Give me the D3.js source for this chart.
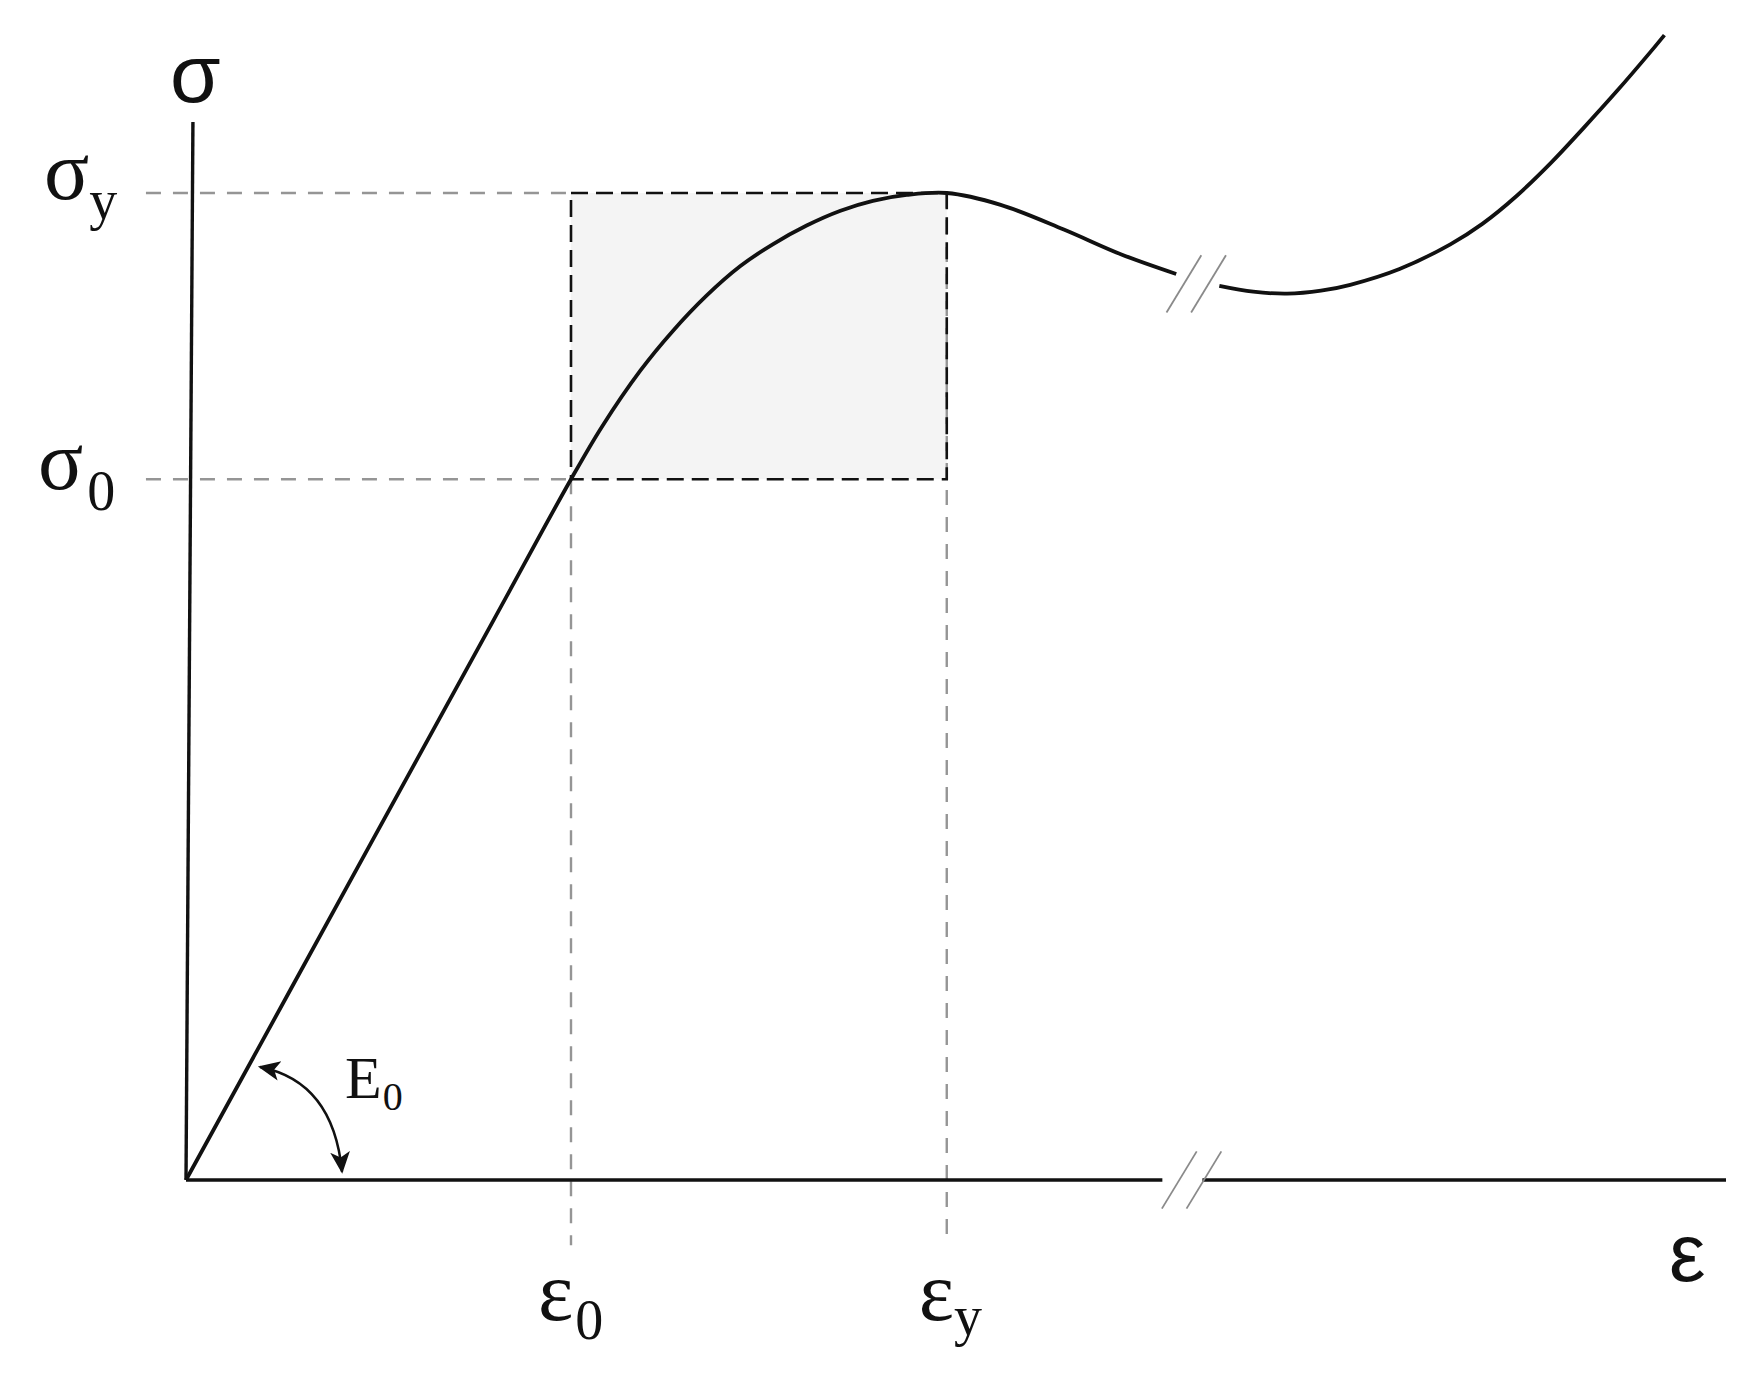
<!DOCTYPE html>
<html>
<head>
<meta charset="utf-8">
<script src="https://cdn.jsdelivr.net/npm/d3@7"></script>
<style>
  body { margin: 0; background: #fff; }
  svg { display: block; }
</style>
</head>
<body>
<svg id="chart" width="1757" height="1373"></svg>
<script>
const width = 1757;
const height = 1373;

// key points on the stress-strain curve (arbitrary units)
const eps0 = 25, epsY = 49.4;
const sig0 = 71, sigY = 100;

// curve before the break
const curveLeft = [
  [0, 0], [12, 34.1], [20, 56.8], [25, 71.0], [27, 76.3], [29.5, 82.0], [31.6, 86.0],
  [33.8, 89.6], [36.0, 92.6], [38.1, 94.8], [40.3, 96.7], [42.5, 98.2], [44.6, 99.2],
  [46.8, 99.8], [49.4, 100], [52.9, 98.8], [57.0, 96.3], [60.7, 93.8], [64.3, 91.8]
];
// curve after the break
const curveRight = [
  [67.1, 90.6], [69.3, 90.0], [71.5, 89.8], [73.7, 90.1], [75.6, 90.7],
  [78.8, 92.3], [82.1, 94.8], [84.2, 96.9], [86.4, 99.7], [88.6, 103.0],
  [90.7, 106.5], [92.9, 110.3], [95.1, 114.3], [96.0, 116.0]
];

// axis break marks
const curveBreak = [64.8, 66.4];
const curveBreakY = 90.8;
const axisBreak = [64.5, 66.1];
const axisGap = [63.4, 66.0];
const xAxisEnd = 100;
const yAxisTop = [0.45, 107.2];

const x = d3.scaleLinear().domain([0, 100]).range([186, 1726]);
const y = d3.scaleLinear().domain([0, 100]).range([1180, 193]);

const svg = d3.select("#chart");
svg.append("rect").attr("width", width).attr("height", height).attr("fill", "#fff");

const defs = svg.append("defs");
defs.append("marker")
  .attr("id", "arrow")
  .attr("viewBox", "0 -5 10 10")
  .attr("refX", 9)
  .attr("refY", 0)
  .attr("markerUnits", "userSpaceOnUse")
  .attr("markerWidth", 22)
  .attr("markerHeight", 22)
  .attr("orient", "auto-start-reverse")
  .append("path")
  .attr("d", "M0,-4.5L10,0L0,4.5L2.5,0Z")
  .attr("fill", "#111");

// shaded box between the two yield points
svg.append("rect")
  .attr("x", x(eps0)).attr("y", y(sigY))
  .attr("width", x(epsY) - x(eps0)).attr("height", y(sig0) - y(sigY))
  .attr("fill", "#f4f4f4");

// grey reference lines
const grey = svg.append("g")
  .attr("stroke", "#959595").attr("stroke-width", 2.4)
  .attr("stroke-dasharray", "15,12").attr("fill", "none");

grey.append("line").attr("x1", x(-2.6)).attr("x2", x(eps0)).attr("y1", y(sigY)).attr("y2", y(sigY));
grey.append("line").attr("x1", x(-2.6)).attr("x2", x(eps0)).attr("y1", y(sig0)).attr("y2", y(sig0));
grey.append("line").attr("x1", x(eps0)).attr("x2", x(eps0)).attr("y1", y(sig0)).attr("y2", y(-6.6));
grey.append("line").attr("x1", x(epsY)).attr("x2", x(epsY)).attr("y1", y(sigY)).attr("y2", y(-6.6));

// black dashed box
svg.append("rect")
  .attr("x", x(eps0)).attr("y", y(sigY))
  .attr("width", x(epsY) - x(eps0)).attr("height", y(sig0) - y(sigY))
  .attr("fill", "none").attr("stroke", "#111").attr("stroke-width", 2.6)
  .attr("stroke-dasharray", "17,8");

// axes
const axes = svg.append("g").attr("stroke", "#111").attr("stroke-width", 3.4).attr("fill", "none");
axes.append("line").attr("x1", x(0)).attr("y1", y(0)).attr("x2", x(axisGap[0])).attr("y2", y(0));
axes.append("line").attr("x1", x(axisGap[1])).attr("y1", y(0)).attr("x2", x(xAxisEnd)).attr("y2", y(0));
axes.append("line").attr("x1", x(0)).attr("y1", y(0)).attr("x2", x(yAxisTop[0])).attr("y2", y(yAxisTop[1]));

// curve
const line = d3.line().x(d => x(d[0])).y(d => y(d[1])).curve(d3.curveCatmullRom.alpha(0.5));
[curveLeft, curveRight].forEach(pts => {
  svg.append("path")
    .attr("d", line(pts))
    .attr("fill", "none").attr("stroke", "#111").attr("stroke-width", 3.8)
    .attr("stroke-linecap", "butt");
});

// break slashes
function slash(cx, cy) {
  svg.append("line")
    .attr("x1", x(cx - 1.13)).attr("y1", y(cy - 2.9))
    .attr("x2", x(cx + 1.13)).attr("y2", y(cy + 2.9))
    .attr("stroke", "#8a8a8a").attr("stroke-width", 1.8);
}
curveBreak.forEach(cx => slash(cx, curveBreakY));
axisBreak.forEach(cx => slash(cx, 0));

// E0 angle arrow
const a0 = [4.81, 11.45], a1 = [10.13, 0.85], ac = [9.56, 9.98];
const arc = d3.path();
arc.moveTo(x(a0[0]), y(a0[1]));
arc.quadraticCurveTo(x(ac[0]), y(ac[1]), x(a1[0]), y(a1[1]));
svg.append("path")
  .attr("d", arc.toString())
  .attr("fill", "none").attr("stroke", "#111").attr("stroke-width", 2.5)
  .attr("marker-start", "url(#arrow)").attr("marker-end", "url(#arrow)");

// labels
const serif = "'Liberation Serif', 'Times New Roman', serif";
const sans = "'Liberation Sans', Arial, sans-serif";

function label(px, py, main, sub, size, subSize, subDx, subDy, font) {
  const t = svg.append("text")
    .attr("x", px).attr("y", py)
    .attr("font-family", font).attr("font-size", size).attr("fill", "#111");
  t.append("tspan").text(main);
  if (sub) {
    t.append("tspan").attr("dx", subDx).attr("dy", subDy)
      .attr("font-size", subSize).attr("font-family", serif).text(sub);
  }
}

label(x(0) - 16, y(0) - 1078, "σ", null, 82, 0, 0, 0, sans);
label(x(xAxisEnd) - 57, y(0) + 101, "ε", null, 82, 0, 0, 0, sans);
label(x(0) - 142, y(sigY) + 6, "σ", "y", 84, 56, 0, 20, serif);
label(x(0) - 148, y(sig0) + 10, "σ", "0", 84, 56, 4, 21, serif);
label(x(eps0) - 33, y(0) + 140, "ε", "0", 84, 56, 2, 19, serif);
label(x(epsY) - 28, y(0) + 140, "ε", "y", 84, 56, 0, 15, serif);
label(x(0) + 159, y(0) - 82, "E", "0", 60, 40, 1, 12, serif);
</script>
</body>
</html>
